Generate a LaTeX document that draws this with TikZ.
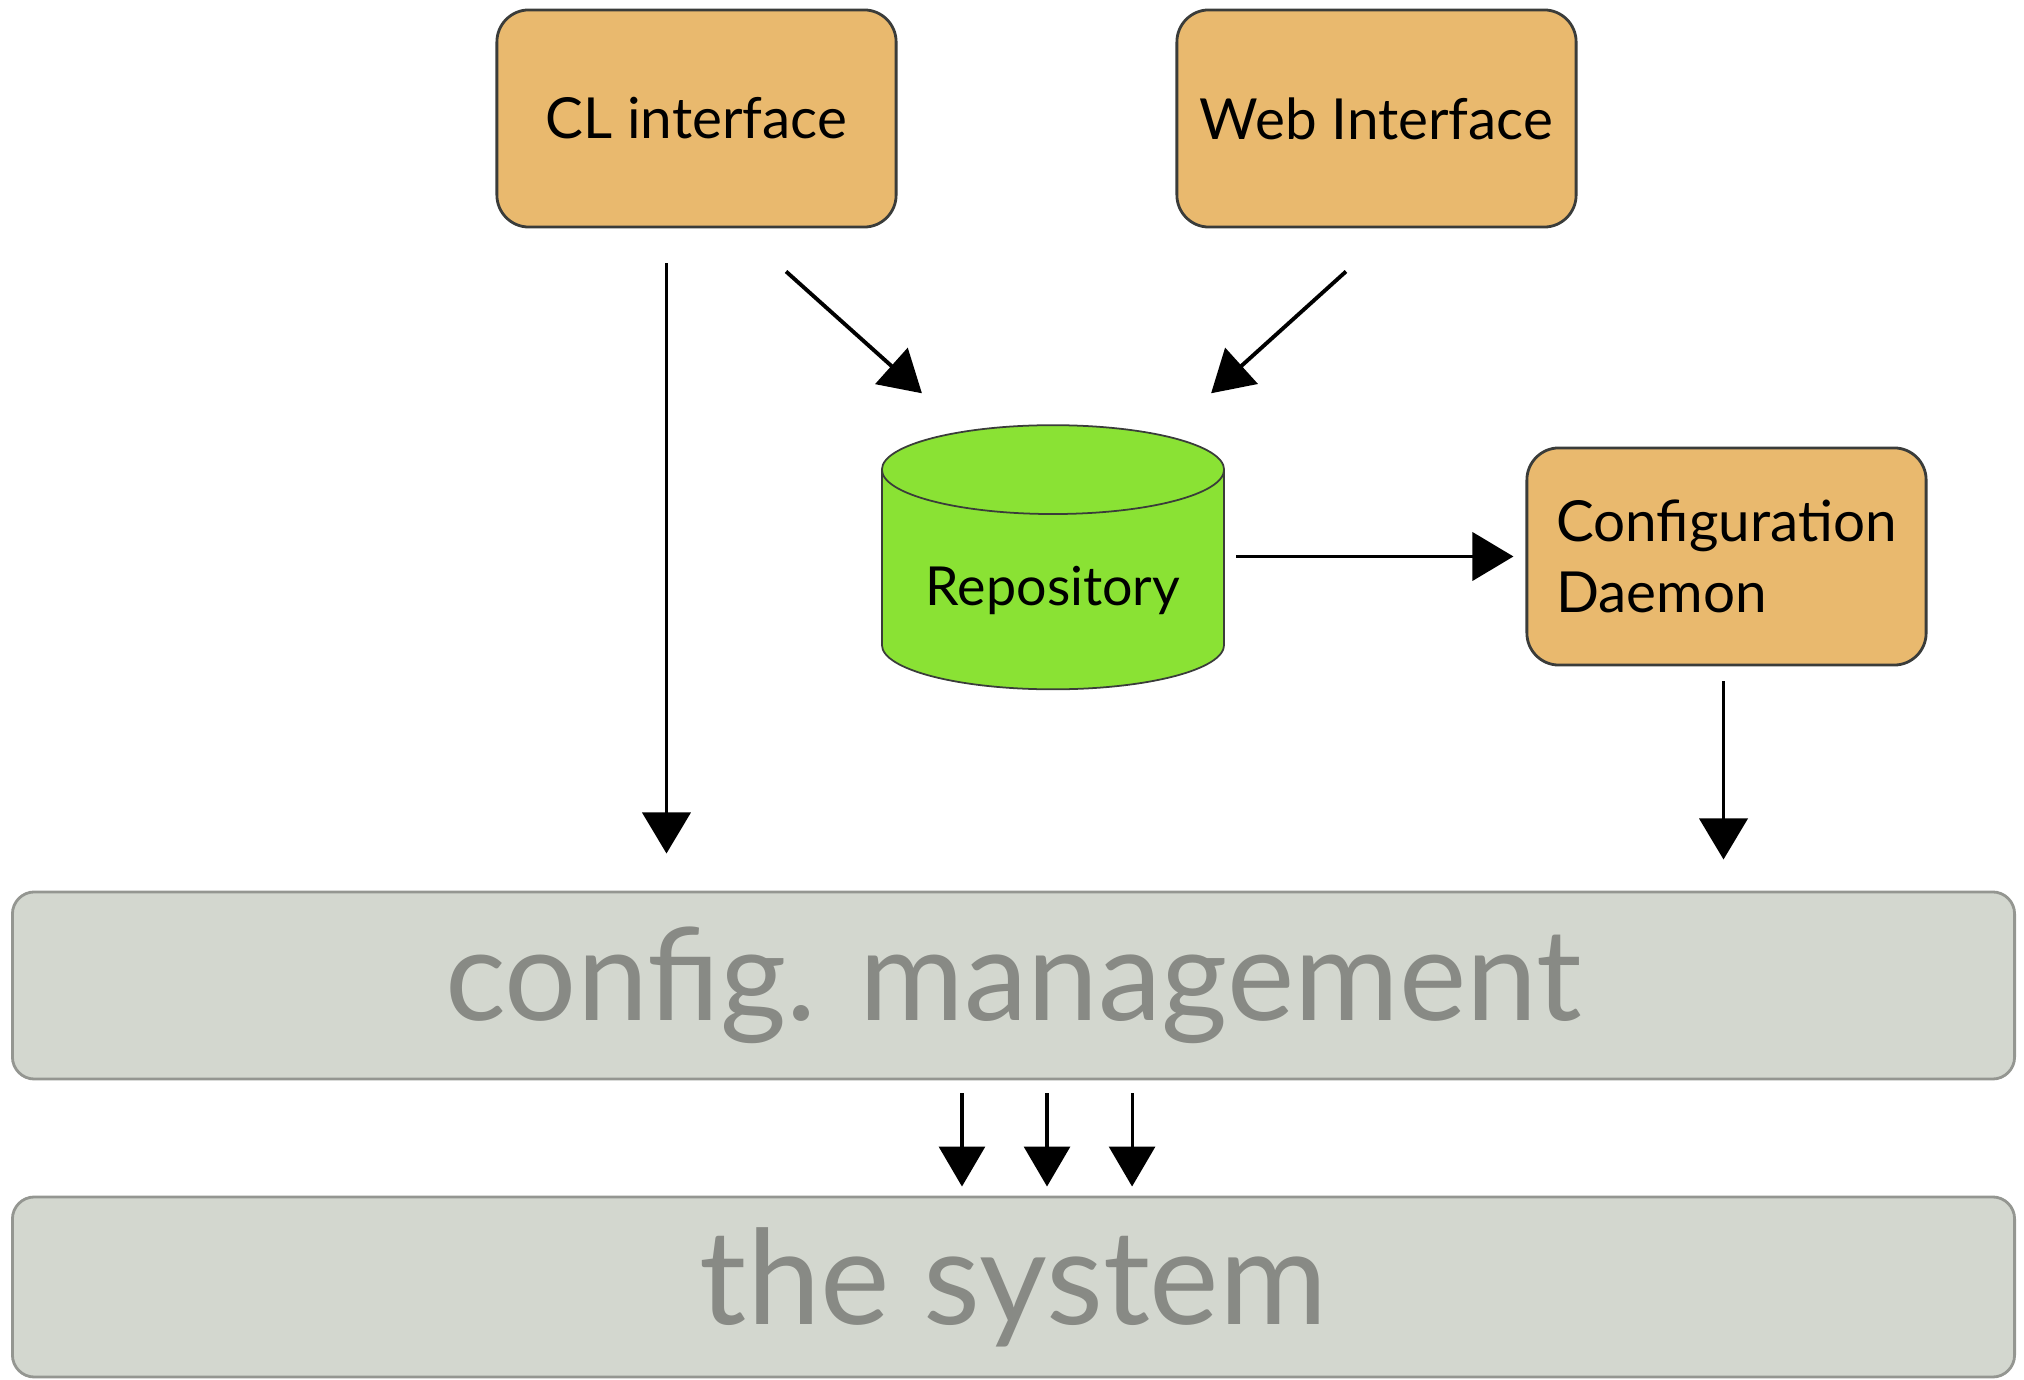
\documentclass[tikz,border=0pt]{standalone}
\usepackage{fontspec}
\setmainfont{Lato}
\usetikzlibrary{arrows.meta,shapes.geometric}
\definecolor{boxorange}{HTML}{E9B96E}
\definecolor{repogreen}{HTML}{8AE234}
\definecolor{bargray}{HTML}{D3D7CF}
\definecolor{bartext}{HTML}{888A85}
\definecolor{darkline}{HTML}{3A3C3A}

\tikzset{
  ifacebox/.style={rectangle, rounded corners=0.32cm, draw=darkline, line width=0.8pt,
    fill=boxorange, minimum width=3.99cm, minimum height=2.17cm, font=\fontsize{16.1}{20.2}\selectfont},
  repostore/.style={cylinder, shape border rotate=90, aspect=0.32, draw=darkline, line width=0.5pt,
    fill=repogreen, minimum width=3.42cm, minimum height=2.64cm, text height=0.44cm, text depth=0.1cm,
    font=\fontsize{15.3}{20}\selectfont},
  layerbar/.style={rectangle, rounded corners=0.22cm, draw=bartext!90, line width=0.8pt,
    fill=bargray, text=bartext, minimum width=20.01cm},
  arr/.style={-{Triangle[length=0.41cm,width=0.48cm]}, line width=1.1pt},
  smallarr/.style={-{Triangle[length=0.4cm,width=0.46cm]}, line width=0.9pt}
}

\begin{document}
\begin{tikzpicture}[x=0.01cm,y=-0.01cm]
  \useasboundingbox (0,0) rectangle (2024,1380);

  \node[ifacebox] (cli) at (696.5,118.5) {CL interface};
  \node[ifacebox] (web) at (1376.5,118.5) {Web Interface};
  \node[repostore] (repo) at (1053,588) {Repository};
  \node[ifacebox, align=left] (daemon) at (1726.5,556.5) {Configuration\\Daemon};
  \node[layerbar, minimum height=1.87cm, font=\fontsize{36.2}{40}\selectfont] (mgmt) at (1013.5,985.5) {config. management};
  \node[layerbar, minimum height=1.80cm, font=\fontsize{37.4}{40}\selectfont] (sys) at (1013.5,1287) {the system};

  \draw[arr] ([xshift=-0.3cm,yshift=-0.35cm]cli.south) -- ([xshift=-0.3cm,yshift=0.37cm]cli.south |- mgmt.north);
  \draw[arr] ([xshift=0.895cm,yshift=-0.43cm]cli.south) -- ([xshift=-1.31cm,yshift=0.31cm]repo.north);
  \draw[arr] ([xshift=-0.305cm,yshift=-0.43cm]web.south) -- ([xshift=1.58cm,yshift=0.31cm]repo.north);
  \draw[arr] ([xshift=0.11cm]repo.east |- daemon.west) -- ([xshift=-0.12cm]daemon.west);
  \draw[arr] ([xshift=-0.03cm,yshift=-0.15cm]daemon.south) -- ([xshift=-0.03cm,yshift=0.31cm]daemon.south |- mgmt.north);

  \foreach \dx in {-0.515,0.335,1.185}
    \draw[smallarr] ([xshift=\dx cm,yshift=-0.13cm]mgmt.south) -- ([xshift=\dx cm,yshift=0.09cm]sys.north);
\end{tikzpicture}
\end{document}
